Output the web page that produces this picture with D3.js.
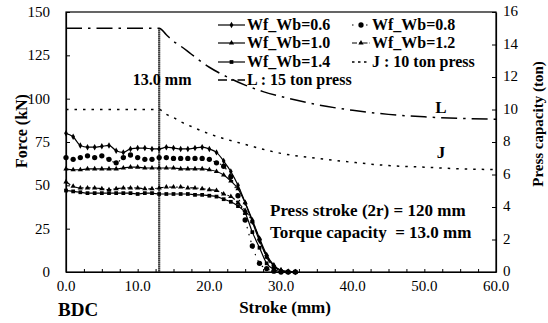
<!DOCTYPE html>
<html>
<head>
<meta charset="utf-8">
<script src="https://cdn.jsdelivr.net/npm/d3@7"></script>
<style>
  body { margin: 0; background: #fff; }
  svg { display: block; font-family: "Liberation Serif", "Times New Roman", serif; }
  .bold { font-weight: bold; }
</style>
</head>
<body>
<div id="chart"></div>
<script>
// stroke positions (mm) of the measured force curves
const stroke = [0, 1, 2, 3, 4, 5, 6, 7, 8, 9, 10, 11, 12, 13, 14, 15, 16,
  17, 18, 19, 20, 21, 22, 23, 24, 25, 26, 27, 28, 29, 30, 31, 32];

// forming force (kN) for each Wf/Wb ratio
const wf06 = [80, 78, 73, 72, 72, 72.5, 73, 70, 69, 71, 71.5, 71.5, 71, 71, 72, 71.5, 71,
  71, 71.5, 72, 71, 69, 64, 58, 50, 40, 29, 18, 9, 3.5, 1, 0.2, 0];
const wf08 = [66, 65, 66, 67, 66, 67, 65, 63, 66, 67.5, 66, 65, 65, 66, 66, 65.5, 65.5,
  65.5, 65.5, 65.5, 65, 63, 61, 55, 44, 30, 15, 5, 2, 0.5, 0, 0, 0];
const wf10 = [59.5, 59, 59, 59.5, 59.5, 59.5, 59.5, 59.5, 60, 60.5, 60.5, 60, 60, 60, 60, 60, 59.5,
  59.5, 59.5, 59.5, 59, 58, 56, 52.5, 48, 40, 30, 19.5, 10, 4, 1, 0.2, 0];
const wf12 = [52, 49.5, 48.5, 48.5, 48.5, 48, 47.5, 48, 48.5, 48.5, 48.5, 48, 48, 48.5, 49, 49, 49,
  48.5, 48.5, 48, 47.5, 47, 45, 43.5, 40, 35.5, 29, 19, 8.5, 3, 0.8, 0, 0];
const wf14 = [47, 46.5, 46, 45.5, 45.5, 45.5, 45.5, 45.5, 45.5, 45.5, 45, 45.5, 45.5, 45, 45, 45, 45,
  45, 44.5, 44.5, 44, 43.5, 42, 40.5, 38, 34, 23, 14, 5, 1.5, 0.3, 0, 0];

// press capacity curves (ton)
const pressStroke = [0, 13, 14, 15, 16, 17.5, 20, 22.5, 25, 27.5, 30, 35, 40, 45, 50, 55, 60];
const pressL = [15, 15, 14.6, 14.2, 13.9, 13.4, 12.6, 12.0, 11.5, 11.1, 10.8, 10.3, 9.95, 9.7, 9.55, 9.45, 9.4];
const pressJ = [10, 10, 9.7, 9.5, 9.25, 8.95, 8.5, 8.15, 7.85, 7.55, 7.3, 7.0, 6.75, 6.55, 6.45, 6.35, 6.3];

const xTicks = [0, 10, 20, 30, 40, 50, 60];
const yTicks = [0, 25, 50, 75, 100, 125, 150];
const y2Ticks = [0, 2, 4, 6, 8, 10, 12, 14, 16];
const torqueStroke = 13.0;

const svgWidth = 548;
const svgHeight = 323;

const margin = { top: 12, right: 52, bottom: 51, left: 66 };
const width = svgWidth - margin.left - margin.right;
const height = svgHeight - margin.top - margin.bottom;

const svg = d3.select("#chart")
  .append("svg")
  .attr("width", svgWidth)
  .attr("height", svgHeight);

const chartGroup = svg.append("g")
  .attr("transform", `translate(${margin.left}, ${margin.top})`);

const x = d3.scaleLinear().domain([0, 60]).range([0, width]);
const y = d3.scaleLinear().domain([0, 150]).range([height, 0]);
const y2 = d3.scaleLinear().domain([0, 16]).range([height, 0]);

// frame
chartGroup.append("rect")
  .attr("width", width)
  .attr("height", height)
  .attr("fill", "none")
  .attr("stroke", "#000")
  .attr("stroke-width", 1.2);

// axes, ticks pointing inward
const bottomAxis = d3.axisBottom(x).tickValues(d3.range(0, 60.1, 2.5))
  .tickSizeInner(-3).tickSizeOuter(0).tickFormat("");
chartGroup.append("g")
  .attr("transform", `translate(0, ${height})`)
  .call(bottomAxis);

const leftAxis = d3.axisLeft(y).tickValues(yTicks).tickSizeInner(-4).tickSizeOuter(0).tickFormat("");
chartGroup.append("g").call(leftAxis);

const rightAxis = d3.axisRight(y2).tickValues(y2Ticks).tickSizeInner(-4).tickSizeOuter(0).tickFormat("");
chartGroup.append("g")
  .attr("transform", `translate(${width}, 0)`)
  .call(rightAxis);

chartGroup.selectAll(".domain").attr("stroke-width", 1.2);

// tick labels
chartGroup.selectAll(".xlab")
  .data(xTicks)
  .enter()
  .append("text")
  .attr("x", d => x(d))
  .attr("y", height + 19)
  .attr("text-anchor", "middle")
  .attr("font-size", 15)
  .text(d => d.toFixed(1));

chartGroup.selectAll(".ylab")
  .data(yTicks)
  .enter()
  .append("text")
  .attr("x", -16)
  .attr("y", d => y(d) + 5)
  .attr("text-anchor", "end")
  .attr("font-size", 15)
  .text(d => d);

chartGroup.selectAll(".y2lab")
  .data(y2Ticks)
  .enter()
  .append("text")
  .attr("x", width + 7)
  .attr("y", d => y2(d) + 4)
  .attr("font-size", 15)
  .text(d => d);

// axis titles
svg.append("text")
  .attr("class", "bold")
  .attr("transform", "translate(27, 131) rotate(-90)")
  .attr("text-anchor", "middle")
  .attr("font-size", 16)
  .text("Force (kN)");

svg.append("text")
  .attr("class", "bold")
  .attr("transform", "translate(543, 124) rotate(-90)")
  .attr("text-anchor", "middle")
  .attr("font-size", 15)
  .text("Press capacity (ton)");

svg.append("text")
  .attr("class", "bold")
  .attr("x", 285)
  .attr("y", 313)
  .attr("text-anchor", "middle")
  .attr("font-size", 17)
  .text("Stroke (mm)");

svg.append("text")
  .attr("class", "bold")
  .attr("x", 58)
  .attr("y", 316)
  .attr("font-size", 19)
  .text("BDC");

// series definitions
const series = [
  { name: "Wf_Wb=0.6", values: wf06, dash: null, symbol: d3.symbolDiamond, size: 12 },
  { name: "Wf_Wb=0.8", values: wf08, dash: "1.5,5.5", symbol: d3.symbolCircle, size: 22 },
  { name: "Wf_Wb=1.0", values: wf10, dash: null, symbol: d3.symbolTriangle, size: 12 },
  { name: "Wf_Wb=1.2", values: wf12, dash: "5,2,1.5,2", symbol: d3.symbolTriangle, size: 12 },
  { name: "Wf_Wb=1.4", values: wf14, dash: null, symbol: d3.symbolSquare, size: 14 }
];

const line = d3.line()
  .x(d => x(d[0]))
  .y(d => y(d[1]))
  .curve(d3.curveMonotoneX);

series.forEach(s => {
  const pts = stroke.map((st, i) => [st, s.values[i]]);
  chartGroup.append("path")
    .datum(pts)
    .attr("d", line)
    .attr("fill", "none")
    .attr("stroke", "#000")
    .attr("stroke-width", 1.2)
    .attr("stroke-dasharray", s.dash);
  chartGroup.selectAll(null)
    .data(pts)
    .enter()
    .append("path")
    .attr("d", d3.symbol().type(s.symbol).size(s.size))
    .attr("transform", d => `translate(${x(d[0])}, ${y(d[1])})`)
    .attr("fill", "#000");
});

// press capacity curves on the right axis
const pressLine = d3.line()
  .x(d => x(d[0]))
  .y(d => y2(d[1]))
  .curve(d3.curveMonotoneX);

chartGroup.append("path")
  .datum(pressStroke.map((st, i) => [st, pressL[i]]))
  .attr("d", pressLine)
  .attr("fill", "none")
  .attr("stroke", "#000")
  .attr("stroke-width", 1.5)
  .attr("stroke-dasharray", "16,6,2.5,6");

chartGroup.append("path")
  .datum(pressStroke.map((st, i) => [st, pressJ[i]]))
  .attr("d", pressLine)
  .attr("fill", "none")
  .attr("stroke", "#000")
  .attr("stroke-width", 1.5)
  .attr("stroke-dasharray", "2.5,6");

// torque capacity marker
chartGroup.append("line")
  .attr("x1", x(torqueStroke))
  .attr("x2", x(torqueStroke))
  .attr("y1", y2(pressL[1]))
  .attr("y2", height)
  .attr("stroke", "#000")
  .attr("stroke-width", 2.2)
  .attr("stroke-dasharray", "1.2,0.8");

chartGroup.append("text")
  .attr("class", "bold")
  .attr("x", x(torqueStroke) + 3)
  .attr("y", 73)
  .attr("text-anchor", "middle")
  .attr("font-size", 16)
  .text("13.0 mm");

chartGroup.append("text")
  .attr("class", "bold")
  .attr("x", 375)
  .attr("y", 101)
  .attr("text-anchor", "middle")
  .attr("font-size", 17)
  .text("L");

chartGroup.append("text")
  .attr("class", "bold")
  .attr("x", 375)
  .attr("y", 146)
  .attr("text-anchor", "middle")
  .attr("font-size", 17)
  .text("J");

chartGroup.append("text")
  .attr("class", "bold")
  .attr("x", 204)
  .attr("y", 204)
  .attr("font-size", 17)
  .text("Press stroke (2r) = 120 mm");

chartGroup.append("text")
  .attr("class", "bold")
  .attr("x", 204)
  .attr("y", 226)
  .attr("font-size", 17)
  .attr("xml:space", "preserve")
  .style("white-space", "pre")
  .text("Torque capacity  = 13.0 mm");

// legend
const legendItems = [
  { s: series[0], col: 0, row: 0 },
  { s: series[2], col: 0, row: 1 },
  { s: series[4], col: 0, row: 2 },
  { s: { name: "L : 15 ton press", dash: "9,4,2.5,4", width: 1.5 }, col: 0, row: 3 },
  { s: series[1], col: 1, row: 0 },
  { s: series[3], col: 1, row: 1 },
  { s: { name: "J : 10 ton press", dash: "2.5,3.5", width: 1.5 }, col: 1, row: 2 }
];
const legendCols = [{ x0: 218, x1: 245 }, { x0: 352, x1: 370 }];
const legendRowY = [25, 43, 62, 80];

legendItems.forEach(item => {
  const c = legendCols[item.col];
  const ly = legendRowY[item.row];
  svg.append("line")
    .attr("x1", c.x0).attr("x2", c.x1)
    .attr("y1", ly).attr("y2", ly)
    .attr("stroke", "#000")
    .attr("stroke-width", item.s.width || 1.2)
    .attr("stroke-dasharray", item.s.dash);
  if (item.s.symbol) {
    svg.append("path")
      .attr("d", d3.symbol().type(item.s.symbol).size(item.s.size)())
      .attr("transform", `translate(${(c.x0 + c.x1) / 2}, ${ly})`);
  }
  svg.append("text")
    .attr("class", "bold")
    .attr("x", c.x1 + 2)
    .attr("y", ly + 5)
    .attr("font-size", 16)
    .text(item.s.name);
});
</script>
</body>
</html>
